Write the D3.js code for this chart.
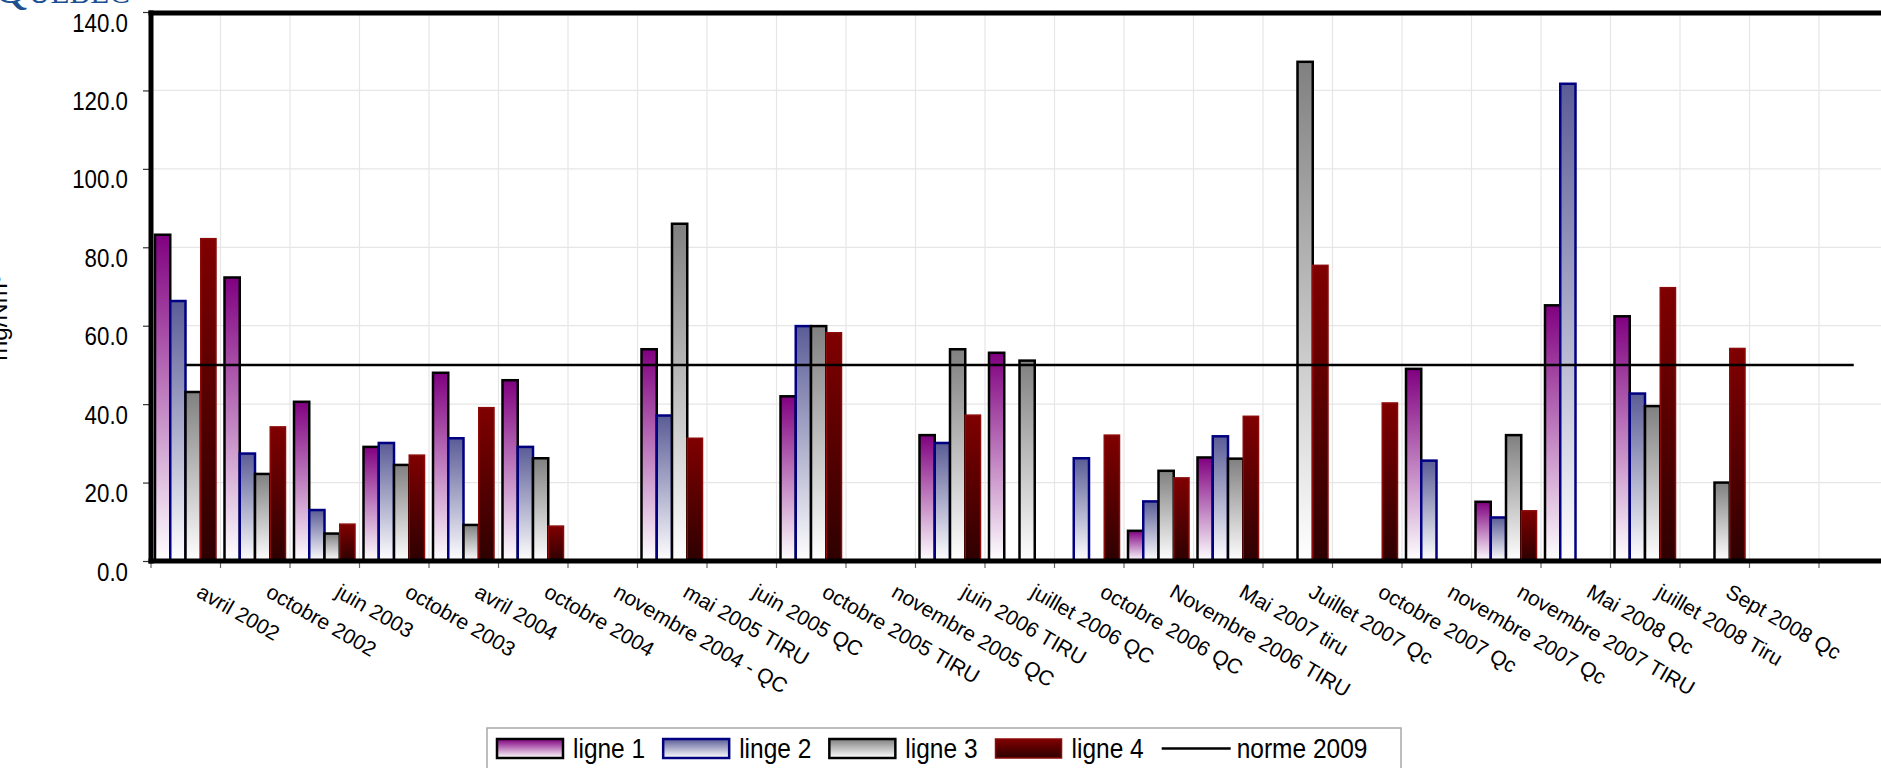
<!DOCTYPE html>
<html>
<head>
<meta charset="utf-8">
<script src="https://cdn.jsdelivr.net/npm/d3@7"></script>
<style>
  html, body { margin: 0; padding: 0; background: #fff; overflow: hidden; }
  svg { display: block; font-family: "Liberation Sans", Arial, sans-serif; }
</style>
</head>
<body>
<svg id="chart" width="1881" height="768"></svg>
<script>
// categories (the last two slots of the axis have no label and no data)
const categories = [
  "avril 2002", "octobre 2002", "juin 2003", "octobre 2003", "avril 2004",
  "octobre 2004", "novembre 2004 - QC", "mai 2005 TIRU", "juin 2005 QC",
  "octobre 2005 TIRU", "novembre 2005 QC", "juin 2006 TIRU", "juillet 2006 QC",
  "octobre 2006 QC", "Novembre 2006 TIRU", "Mai 2007 tiru", "Juillet 2007 Qc",
  "octobre 2007 Qc", "novembre 2007 Qc", "novembre 2007 TIRU", "Mai 2008 Qc",
  "juillet 2008 Tiru", "Sept 2008 Qc", "", ""
]

const ligne1 = [83.2, 72.3, 40.6, 29.1, 48.0, 46.1, null, 54.0, null, 42.0, null, 32.1, 53.1,
  null, 7.7, 26.4, null, null, 49.0, 15.1, 65.2, 62.4, null, null, null]
const linge2 = [66.3, 27.4, 13.0, 30.1, 31.3, 29.1, null, 37.1, null, 59.9, null, 30.1, null,
  26.2, 15.2, 31.8, null, null, 25.6, 11.1, 121.7, 42.7, null, null, null]
const ligne3 = [43.1, 22.2, 7.0, 24.5, 9.2, 26.2, null, 86.0, null, 59.9, null, 54.0, 51.1,
  null, 23.0, 26.1, 127.3, null, null, 32.1, null, 39.5, 20.0, null, null]
const ligne4 = [82.2, 34.2, 9.4, 27.0, 39.1, 8.9, null, 31.3, null, 58.2, null, 37.2, null,
  32.1, 21.2, 36.9, 75.4, 40.3, null, 12.8, null, 69.7, 54.2, null, null]
const norme2009 = 50

const yTicks = [0, 20, 40, 60, 80, 100, 120, 140]
const seriesNames = ["ligne 1", "linge 2", "ligne 3", "ligne 4"]
const normeName = "norme 2009"

// look of each series (top colour, bottom colour, border)
const looks = [
  { id: "g1", top: "#800080", bottom: "#ffffff", stroke: "#000000", sw: 2.5 },
  { id: "g2", top: "#5a5c96", bottom: "#ffffff", stroke: "#000080", sw: 2.5 },
  { id: "g3", top: "#808080", bottom: "#ffffff", stroke: "#000000", sw: 2.5 },
  { id: "g4", top: "#800000", bottom: "#2e0000", stroke: "#8c0a0a", sw: 1.5 }
]

const sx = 0.875 // the source picture is a bit squeezed sideways
const svg = d3.select('#chart')

const x = d3.scaleBand()
  .domain(d3.range(categories.length))
  .range([151, 151 + categories.length * 69.5])
  .padding(0)

const xSub = d3.scaleBand()
  .domain(d3.range(4))
  .range([4, 65])

const y = d3.scaleLinear()
  .domain([0, 140])
  .range([561, 12])

// gradients
const defs = svg.append('defs')
looks.forEach(l => {
  const grad = defs.append('linearGradient')
    .attr('id', l.id)
    .attr('x1', 0).attr('y1', 0).attr('x2', 0).attr('y2', 1)
  grad.append('stop').attr('offset', '0%').attr('stop-color', l.top)
  grad.append('stop').attr('offset', '100%').attr('stop-color', l.bottom)
})

// logo remnant at the very top
const logo = svg.append('text')
  .attr('x', -6).attr('y', 3)
  .style('font-family', '"Liberation Serif", "DejaVu Serif", serif')
  .attr('fill', '#1d4f91')
logo.append('tspan').style('font-size', '46px').text('Q')
logo.append('tspan').style('font-size', '31px').attr('dx', 1).text('UÉBEC')

// grid
const grid = svg.append('g').attr('class', 'grid')
grid.selectAll('line.h')
  .data(yTicks)
  .join('line')
  .attr('class', 'h')
  .attr('x1', x.range()[0]).attr('x2', x.range()[1])
  .attr('y1', d => y(d)).attr('y2', d => y(d))
  .attr('stroke', '#e6e6e6').attr('stroke-width', 1.2)
grid.selectAll('line.v')
  .data(d3.range(1, categories.length + 1))
  .join('line')
  .attr('class', 'v')
  .attr('x1', d => x.range()[0] + d * x.step()).attr('x2', d => x.range()[0] + d * x.step())
  .attr('y1', y(140)).attr('y2', y(0))
  .attr('stroke', '#e6e6e6').attr('stroke-width', 1.2)

// bars
const allSeries = [ligne1, linge2, ligne3, ligne4]
allSeries.forEach((vals, s) => {
  const l = looks[s]
  svg.append('g')
    .selectAll('rect')
    .data(vals.map((v, i) => ({ i, v })).filter(d => d.v != null))
    .join('rect')
    .attr('x', d => x(d.i) + xSub(s))
    .attr('width', xSub.bandwidth())
    .attr('y', d => y(d.v))
    .attr('height', d => y(0) - y(d.v))
    .attr('fill', `url(#${l.id})`)
    .attr('stroke', l.stroke)
    .attr('stroke-width', l.sw)
})

// norme line
const firstC = x(0) + x.bandwidth() / 2
const lastC = x(categories.length - 1) + x.bandwidth() / 2
svg.append('line')
  .attr('x1', firstC).attr('x2', lastC)
  .attr('y1', y(norme2009)).attr('y2', y(norme2009))
  .attr('stroke', '#000').attr('stroke-width', 2.5)

// x tick marks at category boundaries
svg.append('g')
  .selectAll('line')
  .data(d3.range(0, categories.length + 1))
  .join('line')
  .attr('x1', d => x.range()[0] + d * x.step()).attr('x2', d => x.range()[0] + d * x.step())
  .attr('y1', y(0)).attr('y2', y(0) + 7)
  .attr('stroke', '#666').attr('stroke-width', 1.2)

// y axis
const yAxis = d3.axisLeft(y)
  .tickValues(yTicks)
  .tickSize(8)
  .tickSizeOuter(0)
  .tickFormat(d3.format('.1f'))

const yg = svg.append('g')
  .attr('transform', `translate(${x.range()[0]},0)`)
  .call(yAxis)
yg.select('.domain').remove()
yg.attr('font-family', null).attr('font-size', null)
yg.selectAll('.tick line').attr('stroke', '#333').attr('stroke-width', 1.2)
yg.selectAll('.tick text')
  .attr('x', -23 / sx)
  .attr('dy', '0.75em')
  .attr('transform', `scale(${sx},1)`)
  .attr('fill', '#000')
  .style('font-size', '25.5px')

// frame: left axis, top border, bottom axis
svg.append('line')
  .attr('x1', x.range()[0]).attr('x2', x.range()[0])
  .attr('y1', y(140) - 1.5).attr('y2', y(0) + 2.5)
  .attr('stroke', '#000').attr('stroke-width', 5)
svg.append('line')
  .attr('x1', x.range()[0] - 2.5).attr('x2', 1881)
  .attr('y1', y(140) + 1).attr('y2', y(140) + 1)
  .attr('stroke', '#000').attr('stroke-width', 5)
svg.append('line')
  .attr('x1', x.range()[0] - 2.5).attr('x2', 1881)
  .attr('y1', y(0)).attr('y2', y(0))
  .attr('stroke', '#000').attr('stroke-width', 5)

// x labels
svg.append('g')
  .selectAll('text')
  .data(categories)
  .join('text')
  .attr('transform', (d, i) => `translate(${x(i) + x.bandwidth() / 2 + 17},583) rotate(30)`)
  .attr('dy', '0.71em')
  .style('font-size', '21px')
  .attr('fill', '#000')
  .text(d => d)

// y axis title, mostly cut off by the left edge
svg.append('text')
  .attr('transform', 'translate(7,318) rotate(-90)')
  .attr('text-anchor', 'middle')
  .style('font-size', '24px')
  .attr('fill', '#000')
  .text('mg/Nm³')

// legend
const lg = svg.append('g').attr('class', 'legend')
lg.append('rect')
  .attr('x', 487).attr('y', 728)
  .attr('width', 914).attr('height', 60)
  .attr('fill', '#fff')
  .attr('stroke', '#a8a8a8').attr('stroke-width', 1.5)

let cx = 497
const swW = 66, swH = 19, swY = 739, baseY = 758
seriesNames.forEach((name, s) => {
  const l = looks[s]
  lg.append('rect')
    .attr('x', cx).attr('y', swY)
    .attr('width', swW).attr('height', swH)
    .attr('fill', `url(#${l.id})`)
    .attr('stroke', l.stroke).attr('stroke-width', l.sw)
  const t = lg.append('text')
    .attr('transform', `translate(${cx + swW + 10},${baseY}) scale(${sx},1)`)
    .style('font-size', '28px')
    .attr('fill', '#000')
    .text(name)
  cx = cx + swW + 10 + t.node().getComputedTextLength() * sx + 18
})
lg.append('line')
  .attr('x1', cx).attr('x2', cx + 69)
  .attr('y1', swY + swH / 2).attr('y2', swY + swH / 2)
  .attr('stroke', '#000').attr('stroke-width', 2.5)
lg.append('text')
  .attr('transform', `translate(${cx + 75},${baseY}) scale(${sx},1)`)
  .style('font-size', '28px')
  .attr('fill', '#000')
  .text(normeName)
</script>
</body>
</html>
